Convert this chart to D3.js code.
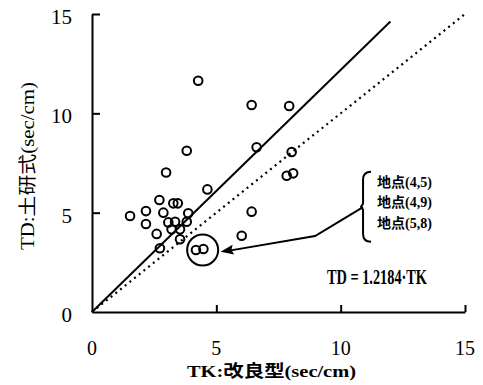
<!DOCTYPE html>
<html>
<head>
<meta charset="utf-8">
<script src="https://cdn.jsdelivr.net/npm/d3@7"></script>
<style>
  body { margin: 0; background: #fff; }
  text { font-family: "Liberation Serif", "Noto Sans CJK JP", serif; fill: #000; }
</style>
</head>
<body>
<div id="chart"></div>
<script>
var width = 483;
var height = 385;
var margin = {top: 14, left: 92, right: 18, bottom: 73};

// TK (x) and TD (y) values
var tk = [4.27, 6.42, 7.93, 3.81, 6.62, 8.03, 2.98, 7.83, 8.09, 4.64,
          2.71, 3.27, 3.45, 1.53, 2.17, 2.87, 3.87, 2.17, 3.07, 3.34,
          3.81, 2.60, 3.20, 3.54, 3.54, 2.73, 4.18, 4.48, 6.02, 6.42];
var td = [11.64, 10.42, 10.37, 8.12, 8.29, 8.05, 7.02, 6.86, 6.98, 6.17,
          5.64, 5.47, 5.47, 4.83, 5.08, 5.00, 4.97, 4.43, 4.51, 4.54,
          4.54, 3.93, 4.16, 4.16, 3.66, 3.21, 3.12, 3.17, 3.84, 5.05];

var slope = 1.2184;
var fitEnd = 12.0;
var ticks = [0, 5, 10, 15];
var sites = ["地点(4,5)", "地点(4,9)", "地点(5,8)"];
var highlight = [4.45, 3.12];                 // circled points
var arrowPath = [[10.9, 5.28], [8.97, 3.82], [5.17, 3.03]];
var bracket = {x: 10.9, top: 7.06, bottom: 3.54};

var svg = d3.select("#chart")
  .append("svg")
  .attr("width", width)
  .attr("height", height);

var xScale = d3.scaleLinear()
  .domain([0, 15])
  .range([margin.left, width - margin.right]);

var yScale = d3.scaleLinear()
  .domain([0, 15])
  .range([height - margin.bottom, margin.top]);

var x0 = xScale(0), y0 = yScale(0);

// axes, ticks point inward
svg.append("g")
  .attr("transform", `translate(0,${y0})`)
  .call(d3.axisBottom(xScale).tickValues([5, 10, 15]).tickSizeInner(-7).tickSizeOuter(0).tickFormat(""));
svg.append("g")
  .attr("transform", `translate(${x0},0)`)
  .call(d3.axisLeft(yScale).tickValues([5, 10, 15]).tickSizeInner(-8).tickSizeOuter(0).tickFormat(""));
svg.selectAll(".domain, .tick line").attr("stroke", "#000").attr("stroke-width", 2);

// tick labels
svg.selectAll(".xlab")
  .data(ticks)
  .enter()
  .append("text")
    .attr("x", function(d) { return xScale(d); })
    .attr("y", 355)
    .attr("text-anchor", "middle")
    .attr("font-size", 20)
    .text(function(d) { return d; });

svg.selectAll(".ylab")
  .data(ticks)
  .enter()
  .append("text")
    .attr("x", 72)
    .attr("y", function(d) { return yScale(d) + 10; })
    .attr("text-anchor", "end")
    .attr("font-size", 21)
    .text(function(d) { return d; });

// axis titles
svg.append("text")
  .attr("x", 187)
  .attr("y", 377)
  .attr("font-size", 17)
  .attr("font-weight", "bold")
  .attr("textLength", 169)
  .attr("lengthAdjust", "spacingAndGlyphs")
  .text("TK:改良型(sec/cm)");

svg.append("text")
  .attr("transform", "translate(34,250) rotate(-90)")
  .attr("font-size", 18)
  .attr("textLength", 168)
  .attr("lengthAdjust", "spacingAndGlyphs")
  .text("TD:土研式(sec/cm)");

// 1:1 line (dotted) and regression line (solid)
svg.append("line")
  .attr("x1", xScale(0)).attr("y1", yScale(0))
  .attr("x2", xScale(15)).attr("y2", yScale(15))
  .attr("stroke", "#000")
  .attr("stroke-width", 2.2)
  .attr("stroke-dasharray", "2,4");

svg.append("line")
  .attr("x1", xScale(0)).attr("y1", yScale(0))
  .attr("x2", xScale(fitEnd)).attr("y2", yScale(fitEnd * slope))
  .attr("stroke", "#000")
  .attr("stroke-width", 2);

// points
svg.selectAll("circle.pt")
  .data(tk)
  .enter()
  .append("circle")
    .attr("class", "pt")
    .attr("cx", function(d) { return xScale(d); })
    .attr("cy", function(d, i) { return yScale(td[i]); })
    .attr("r", 4.3)
    .attr("fill", "none")
    .attr("stroke", "#000")
    .attr("stroke-width", 2);

// highlight circle
svg.append("circle")
  .attr("cx", xScale(highlight[0]))
  .attr("cy", yScale(highlight[1]))
  .attr("r", 15.5)
  .attr("fill", "none")
  .attr("stroke", "#000")
  .attr("stroke-width", 2);

// arrow
var line = d3.line()
  .x(function(d) { return xScale(d[0]); })
  .y(function(d) { return yScale(d[1]); });
svg.append("path")
  .attr("d", line(arrowPath.slice(0, 2).concat([[arrowPath[2][0] + 0.35, arrowPath[2][1] + 0.06]])))
  .attr("fill", "none")
  .attr("stroke", "#000")
  .attr("stroke-width", 2);
var tip = arrowPath[2];
var tx = xScale(tip[0]), ty = yScale(tip[1]);
var px = xScale(arrowPath[1][0]), py = yScale(arrowPath[1][1]);
var ang = Math.atan2(py - ty, px - tx) * 180 / Math.PI;
svg.append("path")
  .attr("d", "M0,0L13,-5L11,0L13,5Z")
  .attr("transform", `translate(${tx},${ty}) rotate(${ang})`)
  .attr("fill", "#000");

// bracket
var bx = xScale(bracket.x), bt = yScale(bracket.top), bb = yScale(bracket.bottom);
var bm = (bt + bb) / 2;
svg.append("path")
  .attr("d", `M${bx + 8},${bt} Q${bx},${bt} ${bx},${bt + 8} L${bx},${bm - 3} L${bx - 2},${bm} L${bx},${bm + 3} L${bx},${bb - 8} Q${bx},${bb} ${bx + 8},${bb}`)
  .attr("fill", "none")
  .attr("stroke", "#000")
  .attr("stroke-width", 2);

// site labels
svg.selectAll(".site")
  .data(sites)
  .enter()
  .append("text")
    .attr("x", bx + 14)
    .attr("y", function(d, i) { return bt + 15 + i * 20.5; })
    .attr("font-size", 14)
    .attr("font-weight", "bold")
    .text(function(d) { return d; });

// equation
svg.append("text")
  .attr("x", 327)
  .attr("y", 284)
  .attr("font-size", 20)
  .attr("font-weight", "bold")
  .attr("textLength", 100)
  .attr("lengthAdjust", "spacingAndGlyphs")
  .text("TD = " + slope + "·TK");
</script>
</body>
</html>
